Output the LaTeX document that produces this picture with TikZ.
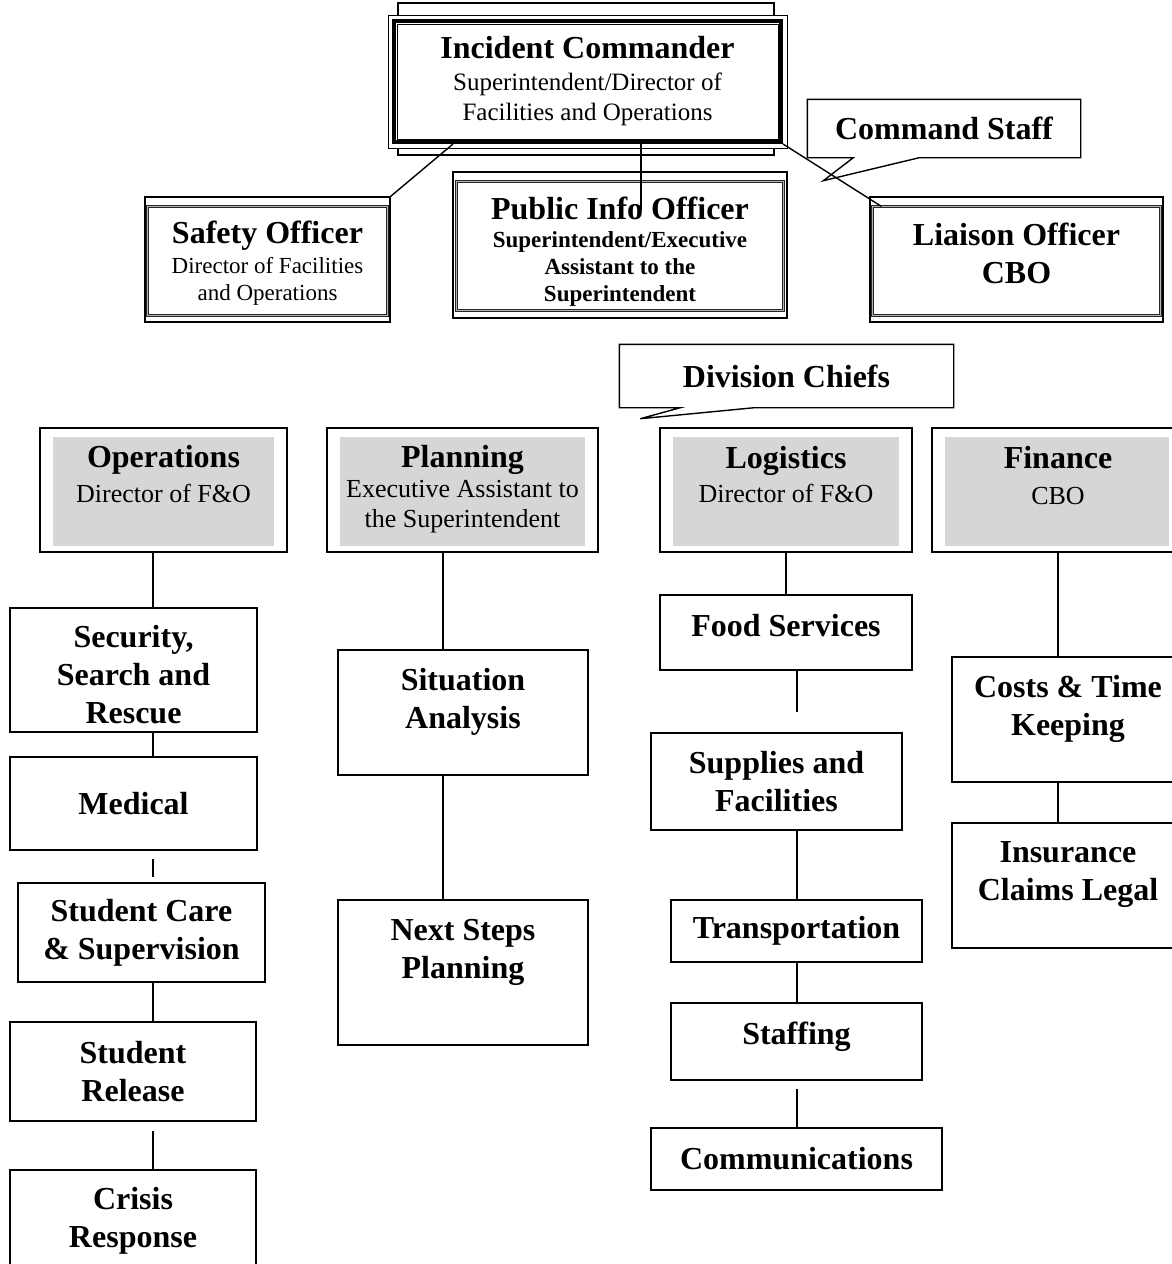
\documentclass[tikz,border=0pt]{standalone}
\usepackage{fontspec}
\setmainfont{Liberation Serif}
\usetikzlibrary{positioning}
\newcommand{\headfont}{\fontsize{32}{38}\selectfont\bfseries}
\newcommand{\padtop}[1]{\rule{0pt}{#1}}
\newcommand{\padbottom}[1]{\rule[-#1]{0pt}{#1}}
\tikzset{
    unit/.style = {draw, line width=1.6pt, align=center, inner sep=0pt, font=\headfont},
    unittext/.style = {align=center, inner sep=0pt, font=\headfont},
    officer/.style = {draw, line width=1.2pt, fill=white, align=center, inner sep=0pt},
    doubleframe/.style = {draw=black!85, line width=0.7pt, double=black!30, double distance=1.6pt},
    division/.style = {draw, line width=1.8pt, fill=white, inner sep=0pt},
    divtext/.style = {align=center, inner sep=0pt, font=\fontsize{26}{30}\selectfont},
    callout/.style = {line width=1.4pt, inner sep=0pt, font=\headfont},
    link/.style = {line width=1.4pt},
}

\begin{document}
\begin{tikzpicture}[x=1pt, y=-1pt]
    \clip (0,0) rectangle (1172,1264);
    \fill[white] (0,0) rectangle (1172,1264);

    % command level
    \node[draw, line width=4pt, fill=white, minimum width=387pt, minimum height=121pt,
          align=center, inner sep=0pt, font=\fontsize{25}{30}\selectfont] (ic) at (587.5,81.5)
        {{\headfont Incident Commander}\\[2pt]Superintendent/Director of\\Facilities and Operations};
    \draw[line width=1pt] ([shift={(-4,-4)}]ic.north west) rectangle ([shift={(4,4)}]ic.south east);
    \draw[line width=1pt] ([shift={(5,5)}]ic.north west) rectangle ([shift={(-5,-5)}]ic.south east);
    \draw[line width=1.2pt] ([shift={(6,-4)}]ic.north west) |- ([shift={(-9,-16)}]ic.north east) -- ([shift={(-9,-4)}]ic.north east);
    \draw[line width=1.2pt] ([shift={(6,4)}]ic.south west) |- ([shift={(-9,11)}]ic.south east) -- ([shift={(-9,4)}]ic.south east);

    \node[officer, minimum width=245pt, minimum height=125pt, font=\fontsize{23}{27}\selectfont] (safety) at (267.5,259.5)
        {{\headfont\padtop{30pt}Safety Officer}\\[3pt]Director of Facilities\\and Operations};
    \node[officer, minimum width=334pt, minimum height=146pt, font=\fontsize{23}{27}\selectfont\bfseries] (pio) at (620,245)
        {{\headfont\padtop{35pt}Public Info Officer}\\[1pt]Superintendent/Executive\\Assistant to the\\Superintendent};
    \node[officer, minimum width=293pt, minimum height=125pt, font=\headfont] (liaison) at (1016.5,259.5)
        {Liaison Officer\\CBO\padbottom{12pt}};
    \draw[doubleframe] ([shift={(3,10)}]safety.north west) rectangle ([shift={(-3,-7)}]safety.south east);
    \draw[doubleframe] ([shift={(4,10)}]pio.north west) rectangle ([shift={(-4,-8)}]pio.south east);
    \draw[doubleframe] ([shift={(3,10)}]liaison.north west) rectangle ([shift={(-3,-7)}]liaison.south east);

    \node[callout, minimum width=272pt, minimum height=57pt] (cmdstaff) at (944,128.5) {Command Staff};
    \draw[callout] ([xshift=46pt]cmdstaff.south west) -- (cmdstaff.south west) |- (cmdstaff.north east)
        |- ([xshift=112pt]cmdstaff.south west) -- ++(-96,23) -- cycle;

    \draw[link] ([xshift=61pt]ic.south west) -- (safety.north east);
    \draw[link] ([xshift=53.5pt]ic.south) -- ([shift={(21,39)}]pio.north);
    \draw[link] (ic.south east) -- ([shift={(12,10)}]liaison.north west);

    % division chiefs
    \node[callout, minimum width=333pt, minimum height=62pt] (divchiefs) at (786.5,376) {Division Chiefs};
    \draw[callout] ([xshift=61pt]divchiefs.south west) -- (divchiefs.south west) |- (divchiefs.north east)
        |- ([xshift=135pt]divchiefs.south west) -- ++(-114,11) -- cycle;

    \node[division, minimum width=247pt, minimum height=124pt] (ops) at (163.5,490) {};
    \node[division, minimum width=271pt, minimum height=124pt] (plan) at (462.5,490) {};
    \node[division, minimum width=252pt, minimum height=124pt] (logi) at (786,490) {};
    \node[division, minimum width=250pt, minimum height=124pt] (fin) at (1057,490) {};
    \foreach \d in {ops,plan,logi,fin}
        \fill[black!16] ([shift={(14,10)}]\d.north west) rectangle ([shift={(-14,-7)}]\d.south east);

    \node[divtext] (opstxt) at (163.5,474) {{\headfont Operations}\\[5pt]Director of F\&O};
    \node[divtext] (plantxt) at (462.5,489) {{\headfont Planning}\\[0pt]Executive Assistant to\\the Superintendent};
    \node[divtext] (logitxt) at (786,475) {{\headfont Logistics}\\[4pt]Director of F\&O};
    \node[divtext] (fintxt) at (1058,476) {{\headfont Finance}\\[6pt]CBO};

    % operations
    \node[unit, minimum width=247pt, minimum height=124pt] (secur) at (133.5,670) {\padtop{32pt}Security,\\Search and\\Rescue};
    \node[unit, minimum width=247pt, minimum height=93pt] (medical) at (133.5,803.5) {Medical};
    \node[unit, minimum width=247pt, minimum height=99pt] (care) at (141.5,932.5) {Student Care\\\& Supervision};
    \node[unit, minimum width=246pt, minimum height=99pt] (release) at (133,1071.5) {Student\\Release};
    \node[unit, minimum width=246pt, minimum height=120pt] (crisis) at (133,1230) {};
    \node[unittext] (crisistxt) at (133,1221) {Crisis\\Response};

    % planning
    \node[unit, minimum width=250pt, minimum height=125pt] (sitan) at (463,712.5) {};
    \node[unittext] (sitantxt) at (463,702) {Situation\\Analysis};
    \node[unit, minimum width=250pt, minimum height=145pt] (nextsteps) at (463,972.5) {};
    \node[unittext] (nextstepstxt) at (463,952) {Next Steps\\Planning};

    % logistics
    \node[unit, minimum width=252pt, minimum height=75pt] (food) at (786,632.5) {Food Services\padbottom{14pt}};
    \node[unit, minimum width=251pt, minimum height=97pt] (supplies) at (776.5,781.5) {Supplies and\\Facilities};
    \node[unit, minimum width=251pt, minimum height=62pt] (transport) at (796.5,931) {Transportation};
    \node[unit, minimum width=251pt, minimum height=77pt] (staffing) at (796.5,1041.5) {Staffing\padbottom{17pt}};
    \node[unit, minimum width=291pt, minimum height=62pt] (comm) at (796.5,1159) {Communications};

    % finance
    \node[unit, minimum width=230pt, minimum height=125pt] (costs) at (1067,719.5) {};
    \node[unittext] (coststxt) at (1068,709) {Costs \& Time\\Keeping};
    \node[unit, minimum width=230pt, minimum height=125pt] (insurance) at (1067,885.5) {};
    \node[unittext] (insurancetxt) at (1068,875) {Insurance\\Claims Legal};

    \coordinate (opsline) at (153,0);
    \coordinate (planline) at (443,0);
    \coordinate (logiline) at (797,0);
    \coordinate (finline) at (1058,0);

    \foreach \a/\b in {ops/secur, secur/medical, care/release}
        \draw[link] (\a.south -| opsline) -- (\b.north -| opsline);
    \draw[link, shorten <=8pt, shorten >=5pt] (medical.south -| opsline) -- (care.north -| opsline);
    \draw[link, shorten <=9pt] (release.south -| opsline) -- (crisis.north -| opsline);

    \foreach \a/\b in {plan/sitan, sitan/nextsteps}
        \draw[link] (\a.south -| planline) -- (\b.north -| planline);

    \draw[link] (logi.south) -- (food.north);
    \draw[link, shorten >=20pt] (food.south -| logiline) -- (supplies.north -| logiline);
    \foreach \a/\b in {supplies/transport, transport/staffing}
        \draw[link] (\a.south -| logiline) -- (\b.north -| logiline);
    \draw[link, shorten <=8pt] (staffing.south -| logiline) -- (comm.north -| logiline);

    \foreach \a/\b in {fin/costs, costs/insurance}
        \draw[link] (\a.south -| finline) -- (\b.north -| finline);
\end{tikzpicture}
\end{document}
